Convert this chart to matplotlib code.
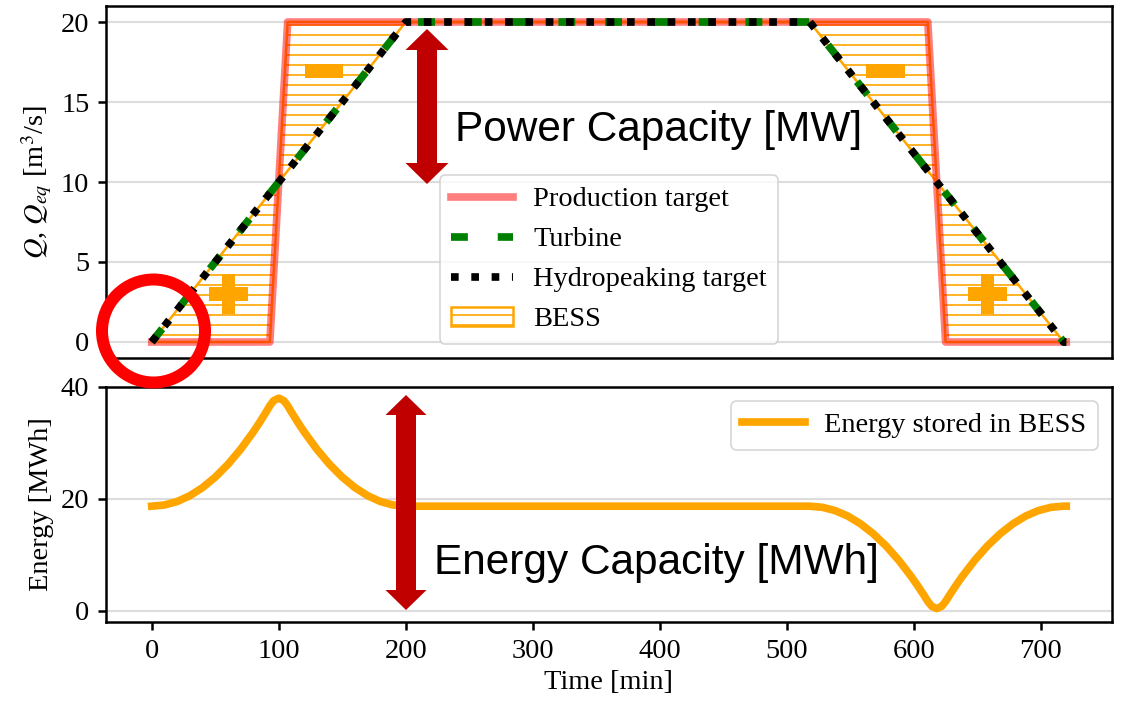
import matplotlib
matplotlib.use("Agg")
import matplotlib.pyplot as plt
from matplotlib.patches import Polygon, Rectangle, Ellipse

W, H, DPI = 1128, 705, 120

plt.rcParams["font.family"] = ["Liberation Serif", "DejaVu Serif"]
plt.rcParams["mathtext.fontset"] = "stix"
plt.rcParams["hatch.linewidth"] = 1.0
plt.rcParams["font.size"] = 17

# ---- discharge series [min, m3/s] ----
time_q = [0, 93, 100, 107, 200, 518, 611, 618, 625, 718, 720]
production = [0, 0, 10, 20, 20, 20, 20, 10, 0, 0, 0]
hydropeaking = [0, 9.3, 10, 10.7, 20, 20, 10.7, 10, 9.3, 0, 0]
turbine = [0, 9.3, 10, 10.7, 20, 20, 10.7, 10, 9.3, 0, 0]

# ---- energy stored in the battery [min, MWh] ----
time_e = [0, 10, 20, 30, 40, 50, 60, 70, 80, 85, 90, 93, 96, 100, 104, 107,
          110, 115, 120, 130, 140, 150, 160, 170, 180, 190, 200,
          300, 400, 518, 528, 538, 548, 558, 568, 578, 588, 598, 603, 608,
          611, 614, 618, 622, 625, 628, 633, 638, 648, 658, 668, 678, 688,
          698, 708, 718, 720]
energy = [18.70, 18.91, 19.53, 20.57, 22.02, 23.89, 26.17, 28.87, 31.98,
          33.69, 35.51, 36.65, 37.56, 38.00, 37.56, 36.65,
          35.51, 33.69, 31.98, 28.87, 26.17, 23.89, 22.02, 20.57, 19.53,
          18.91, 18.70,
          18.70, 18.70, 18.70, 18.50, 17.91, 16.93, 15.55, 13.78, 11.62,
          9.06, 6.11, 4.48, 2.76,
          1.68, 0.82, 0.40, 0.82, 1.68, 2.76, 4.48, 6.11, 9.06, 11.62, 13.78,
          15.55, 16.93, 17.91, 18.50, 18.70, 18.70]

q_ticks = [0, 5, 10, 15, 20]
e_ticks = [0, 20, 40]
t_ticks = [0, 100, 200, 300, 400, 500, 600, 700]


def fx(x):
    return x / W


def fy(y):
    return 1 - y / H


fig = plt.figure(figsize=(W / DPI, H / DPI), dpi=DPI)
ax1 = fig.add_axes([fx(106), fy(358), fx(1112) - fx(106), fy(6) - fy(358)])
ax2 = fig.add_axes([fx(106), fy(622), fx(1112) - fx(106), fy(387) - fy(622)])

for ax in (ax1, ax2):
    ax.set_xlim(-36, 756)
    ax.set_xticks(t_ticks)
    ax.yaxis.grid(True, color="#dddddd", lw=1.3)
    ax.set_axisbelow(True)
    for s in ax.spines.values():
        s.set_linewidth(1.5)
        s.set_color("black")
    ax.tick_params(width=1.5, length=5, pad=5, labelsize=17)

# ---- flows ----
ax1.fill_between(time_q, hydropeaking, production, facecolor="none",
                 edgecolor="orange", hatch="--", lw=1.5, label="BESS", zorder=1)
ax1.plot(time_q, production, color="red", alpha=0.5, lw=4.6,
         label="Production target", zorder=2)
ax1.plot(time_q, turbine, color="green", lw=4.6, dashes=(2.2, 3.9),
         label="Turbine", zorder=3)
ax1.plot(time_q, hydropeaking, color="black", lw=4.6, ls=":",
         label="Hydropeaking target", zorder=4)
ax1.set_ylim(-1, 21)
ax1.set_yticks(q_ticks)
ax1.tick_params(axis="x", bottom=False, labelbottom=False)
ax1.set_ylabel(r"$Q$, $Q_{eq}$ [m$^3$/s]", fontsize=17)

h, l = ax1.get_legend_handles_labels()
order = [l.index(n) for n in ["Production target", "Turbine",
                              "Hydropeaking target", "BESS"]]
ax1.legend([h[i] for i in order], [l[i] for i in order], loc="lower center",
           fontsize=17, handlelength=2.2, handletextpad=0.7)

# ---- energy ----
ax2.plot(time_e, energy, color="orange", lw=4.6, label="Energy stored in BESS")
ax2.set_ylim(-2, 40)
ax2.set_yticks(e_ticks)
ax2.set_ylabel("Energy [MWh]", fontsize=17)
ax2.set_xlabel("Time [min]", fontsize=17)
ax2.legend(loc="upper right", fontsize=17, handlelength=2.2, handletextpad=0.7)

fig.align_ylabels([ax1, ax2])


# ---- annotations ----
def double_arrow(cx, y0, y1, hw, hl, sw, color="#c00000"):
    pts = [(cx, y0), (cx + hw / 2, y0 + hl), (cx + sw / 2, y0 + hl),
           (cx + sw / 2, y1 - hl), (cx + hw / 2, y1 - hl), (cx, y1),
           (cx - hw / 2, y1 - hl), (cx - sw / 2, y1 - hl),
           (cx - sw / 2, y0 + hl), (cx - hw / 2, y0 + hl)]
    fig.patches.append(Polygon([(fx(x), fy(y)) for x, y in pts], closed=True,
                               transform=fig.transFigure, facecolor=color,
                               edgecolor="none", zorder=10))


def px_rect(x0, y0, x1, y1, color="orange"):
    fig.patches.append(Rectangle((fx(x0), fy(y1)), fx(x1) - fx(x0),
                                 fy(y0) - fy(y1), transform=fig.transFigure,
                                 facecolor=color, edgecolor="none", zorder=10))


double_arrow(427, 29, 184, 43, 21, 20)
double_arrow(406, 395, 610, 41, 20, 20)

# discharge / charge signs
px_rect(305, 64, 343, 78)
px_rect(866, 64, 905, 78)
for cx in (228.5, 987.5):
    px_rect(cx - 19.5, 287, cx + 19.5, 301)
    px_rect(cx - 6.5, 274, cx + 6.5, 314)

# highlight circle at the start of the ramp
r = 51.5
fig.patches.append(Ellipse((fx(153.5), fy(331)), 2 * r / W, 2 * r / H,
                           transform=fig.transFigure, facecolor="none",
                           edgecolor="red", lw=12 * 72 / DPI, zorder=11))

fig.text(fx(455), fy(141), "Power Capacity [MW]", family="Liberation Sans",
         fontsize=25.4, ha="left", va="baseline", zorder=12)
fig.text(fx(434), fy(574), "Energy Capacity [MWh]", family="Liberation Sans",
         fontsize=25.4, ha="left", va="baseline", zorder=12)

fig.savefig("out.png", dpi=DPI)
